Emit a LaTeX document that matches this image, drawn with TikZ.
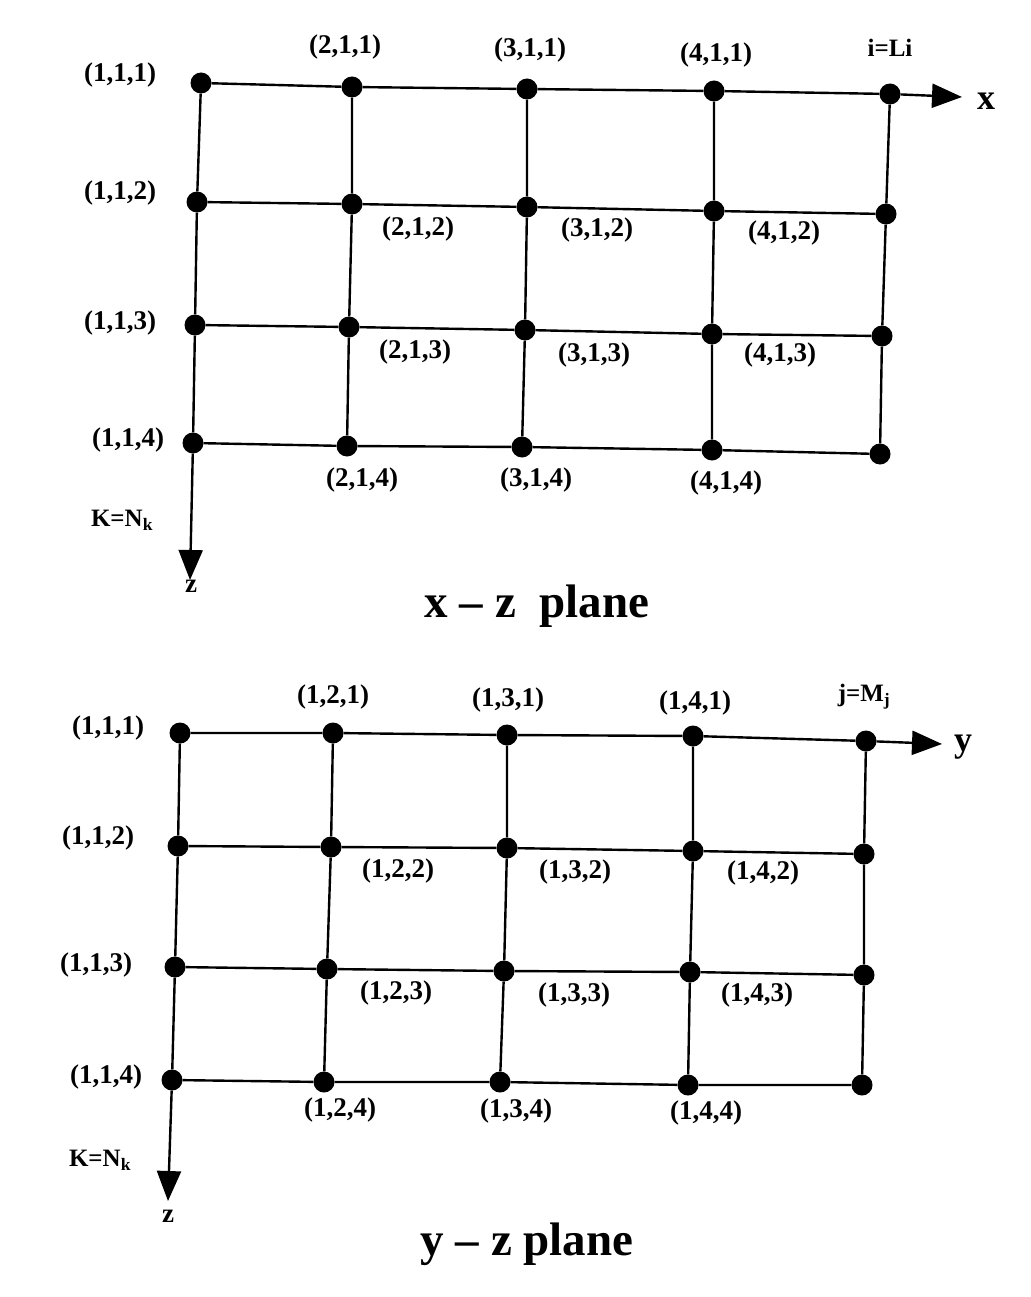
\documentclass[tikz,border=0pt]{standalone}
\usepackage{fontspec}
\setmainfont{Liberation Serif}
\usetikzlibrary{arrows.meta}
\begin{document}
\begin{tikzpicture}[x=1pt,y=-1pt,
  dot/.style={circle,fill=black,inner sep=0pt,minimum size=21pt},
  lbl/.style={font=\fontsize{27}{30}\selectfont\bfseries,inner sep=1pt},
  kl/.style={font=\fontsize{25}{28}\selectfont\bfseries,inner sep=1pt},
  ttl/.style={font=\fontsize{47}{52}\selectfont\bfseries},
  ax/.style={font=\fontsize{36}{40}\selectfont\bfseries},
  grid line/.style={line width=2.4pt},
  axis arrow/.style={line width=2.4pt,-{Triangle[length=30pt,width=24pt]}}]
\useasboundingbox (0,0) rectangle (1030,1297);
% ---------- x-z plane ----------
\foreach \n/\x/\y in {11/201/83,21/352/87,31/527/89,41/714/91,51/890/94,
  12/197/202,22/352/204,32/527/207,42/714/211,52/886/214,
  13/195/325,23/349/327,33/525/330,43/712/334,53/882/336,
  14/193/443,24/347/446,34/522/447,44/712/450,54/880/454}
  \node[dot] (a\n) at (\x,\y) {};
\coordinate (axE) at (962,97);
\coordinate (azE) at (190,580);
\foreach \k in {1,2,3,4}
  \draw[grid line] (a1\k) -- (a2\k) -- (a3\k) -- (a4\k) -- (a5\k);
\foreach \i in {2,3,4,5}
  \draw[grid line] (a\i1) -- (a\i2) -- (a\i3) -- (a\i4);
\draw[grid line] (a11) -- (a12) -- (a13) -- (a14);
\draw[axis arrow] (a51) -- (axE);
\draw[axis arrow] (a14) -- (azE);
\node[ax] (xl) at (986,101) {x};
\node[lbl] (zl) at (191,586) {z};
\node[kl] (kn) at (122,520) {K=N\textsubscript{k}};
\node[kl] (il) at (890,48) {i=Li};
\foreach \t/\x/\y in {{(1,1,1)}/120/75,{(2,1,1)}/345/47,{(3,1,1)}/530/50,{(4,1,1)}/716/55,
  {(1,1,2)}/120/193,{(2,1,2)}/418/229,{(3,1,2)}/597/230,{(4,1,2)}/784/233,
  {(1,1,3)}/120/323,{(2,1,3)}/415/352,{(3,1,3)}/594/355,{(4,1,3)}/780/355,
  {(1,1,4)}/128/440,{(2,1,4)}/362/480,{(3,1,4)}/536/480,{(4,1,4)}/726/483}
  \node[lbl] at (\x,\y) {\t};
\node[ttl] (t1) at (537,606) {x -- z\ \ plane};
% ---------- y-z plane ----------
\foreach \n/\x/\y in {11/180/733,21/333/733,31/507/735,41/693/736,51/866/741,
  12/178/846,22/331/847,32/507/848,42/693/851,52/864/854,
  13/175/967,23/327/969,33/504/971,43/690/972,53/864/975,
  14/172/1080,24/324/1082,34/500/1082,44/688/1085,54/862/1085}
  \node[dot] (b\n) at (\x,\y) {};
\coordinate (byE) at (942,744);
\coordinate (bzE) at (168,1201);
\foreach \k in {1,2,3,4}
  \draw[grid line] (b1\k) -- (b2\k) -- (b3\k) -- (b4\k) -- (b5\k);
\foreach \i in {2,3,4,5}
  \draw[grid line] (b\i1) -- (b\i2) -- (b\i3) -- (b\i4);
\draw[grid line] (b11) -- (b12) -- (b13) -- (b14);
\draw[axis arrow] (b51) -- (byE);
\draw[axis arrow] (b14) -- (bzE);
\node[ax] (yl) at (963,747) {y};
\node[lbl] (zl2) at (168,1216) {z};
\node[kl] (kn2) at (100,1160) {K=N\textsubscript{k}};
\node[kl] (jl) at (864,697) {j=M\textsubscript{j}};
\foreach \t/\x/\y in {{(1,1,1)}/108/728,{(1,2,1)}/333/697,{(1,3,1)}/508/700,{(1,4,1)}/695/703,
  {(1,1,2)}/98/838,{(1,2,2)}/398/871,{(1,3,2)}/575/872,{(1,4,2)}/763/873,
  {(1,1,3)}/96/965,{(1,2,3)}/396/993,{(1,3,3)}/574/995,{(1,4,3)}/757/995,
  {(1,1,4)}/106/1077,{(1,2,4)}/340/1110,{(1,3,4)}/516/1111,{(1,4,4)}/706/1113}
  \node[lbl] at (\x,\y) {\t};
\node[ttl] (t2) at (527,1244) {y -- z plane};
\end{tikzpicture}
\end{document}
